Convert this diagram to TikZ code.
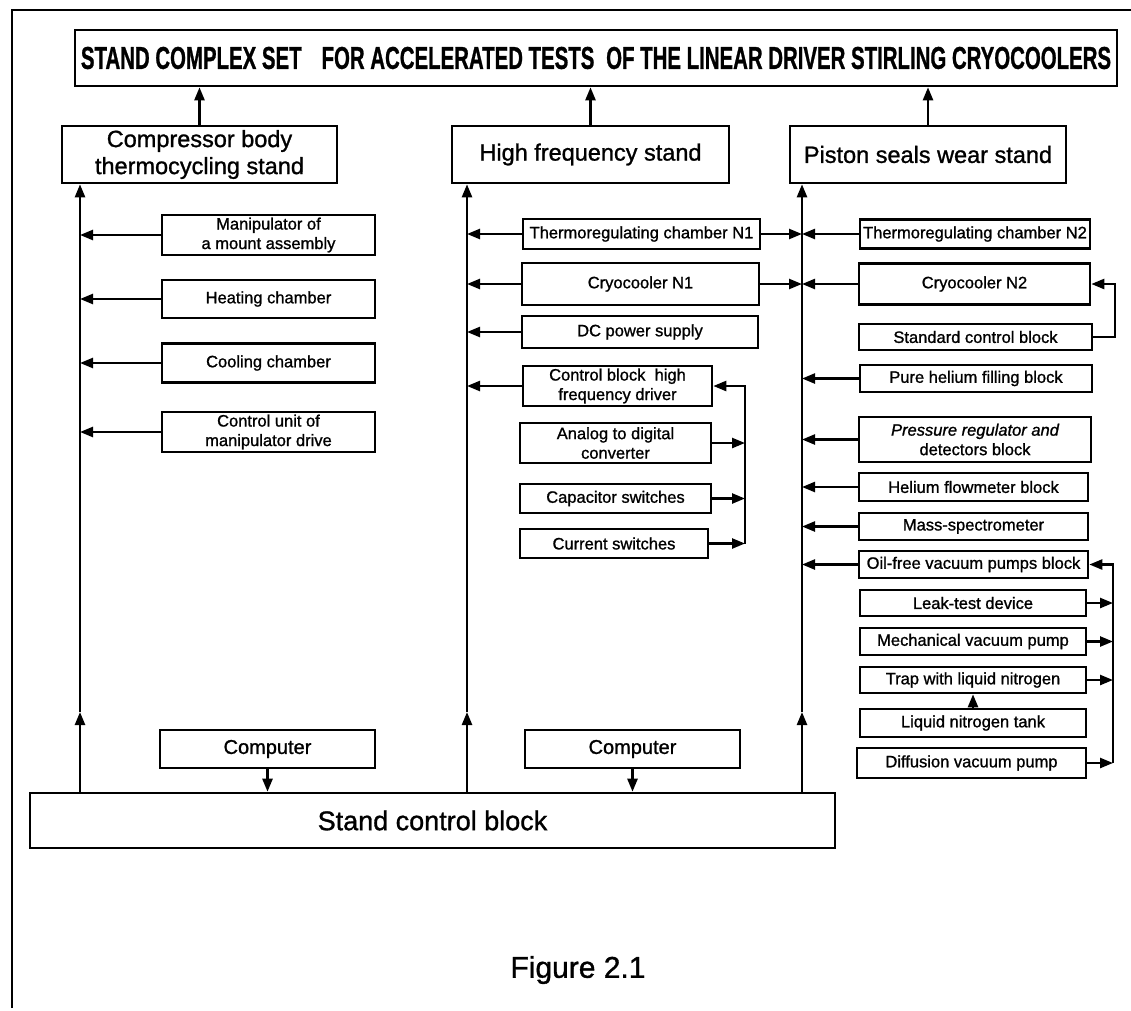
\documentclass[tikz,border=0pt]{standalone}
\usepackage{fontspec}
\usepackage{graphicx}
\setmainfont{Liberation Sans}[FakeBold=1.1]
\usetikzlibrary{arrows.meta}
\begin{document}
\begin{tikzpicture}[x=1pt,y=-1pt,
  box/.style={draw, line width=2.6pt, inner sep=0pt, align=center,
              font=\fontsize{16.5}{19.5}\selectfont},
  stand/.style={box, font=\fontsize{23.5}{27}\selectfont},
  arr/.style={line width=2.4pt, -{Triangle[length=13pt,width=10pt]}},
  wire/.style={line width=2.4pt}]
\useasboundingbox (0,0) rectangle (1131,1010);

% frame
\draw[line width=2.6pt] (12,1008) -- (12,10) -- (1131,10);

% title
\node[box, minimum width=1042pt, minimum height=56pt] (title) at (596,58)
  {\resizebox{1030pt}{22pt}{\bfseries STAND COMPLEX SET\hspace{0.7em} FOR ACCELERATED TESTS\hspace{0.3em} OF THE LINEAR DRIVER STIRLING CRYOCOOLERS}};

% stands
\node[stand, minimum width=275pt, minimum height=57pt] (comp) at (199.5,154.5) {Compressor body\\thermocycling stand};
\node[stand, minimum width=277pt, minimum height=57pt] (hf) at (590.5,154.5) {High frequency stand};
\node[stand, minimum width=276pt, minimum height=57pt] (pist) at (928,154.5) {Piston seals wear stand};

\draw[arr] (comp.north) -- (comp.north |- title.south);
\draw[arr] (hf.north) -- (hf.north |- title.south);
\draw[arr] (pist.north) -- (pist.north |- title.south);

% control block and computers
\node[box, minimum width=805pt, minimum height=55pt, font=\fontsize{27}{30}\selectfont] (ctrl) at (432.5,820.5) {Stand control block};
\node[box, minimum width=215pt, minimum height=38pt, font=\fontsize{20}{23}\selectfont] (pc1) at (267.5,749) {Computer};
\node[box, minimum width=215pt, minimum height=38pt, font=\fontsize{20}{23}\selectfont] (pc2) at (632.5,749) {Computer};
\draw[arr] (pc1.south) -- (pc1.south |- ctrl.north);
\draw[arr] (pc2.south) -- (pc2.south |- ctrl.north);

% buses
\coordinate (busL) at (80,712);
\coordinate (busM) at (467,712);
\coordinate (busR) at (802,712);
\draw[arr] (busL |- ctrl.north) -- (busL);
\draw[arr] (busL) -- (busL |- comp.south);
\draw[arr] (busM |- ctrl.north) -- (busM);
\draw[arr] (busM) -- (busM |- hf.south);
\draw[arr] (busR |- ctrl.north) -- (busR);
\draw[arr] (busR) -- (busR |- pist.south);

% left column
\node[box, minimum width=213pt, minimum height=40pt] (m1) at (268.5,235) {Manipulator of\\a mount assembly};
\node[box, minimum width=213pt, minimum height=38pt] (m2) at (268.5,299) {Heating chamber};
\node[box, minimum width=213pt, minimum height=39pt] (m3) at (268.5,363) {Cooling chamber};
\node[box, minimum width=213pt, minimum height=40pt] (m4) at (268.5,432) {Control unit of\\manipulator drive};
\foreach \n in {m1,m2,m3,m4} \draw[arr] (\n.west) -- (\n.west -| busL);

% middle column
\node[box, minimum width=237pt, minimum height=30pt] (t1) at (641.5,234) {Thermoregulating chamber N1};
\node[box, minimum width=237pt, minimum height=42pt] (c1) at (640.5,284) {Cryocooler N1};
\node[box, minimum width=236pt, minimum height=32pt] (dc) at (640,332) {DC power supply};
\node[box, minimum width=189pt, minimum height=40pt] (cb) at (617.5,386) {Control block\ \ high\\frequency driver};
\node[box, minimum width=191pt, minimum height=40pt] (adc) at (615.5,443) {Analog to digital\\converter};
\node[box, minimum width=191pt, minimum height=29pt] (cap) at (615.5,498.5) {Capacitor switches};
\node[box, minimum width=188pt, minimum height=29pt] (cur) at (614,543.5) {Current switches};
\foreach \n in {t1,c1,dc,cb} \draw[arr] (\n.west) -- (\n.west -| busM);
\draw[arr] (t1.east) -- (t1.east -| busR);
\draw[arr] (c1.east) -- (c1.east -| busR);
\coordinate (lpM) at (745,0);
\draw[arr] (cur.east -| lpM) |- (cb.east);
\foreach \n in {adc,cap,cur} \draw[arr] (\n.east) -- (\n.east -| lpM);

% right column
\node[box, minimum width=230pt, minimum height=29pt] (t2) at (975,234) {Thermoregulating chamber N2};
\node[box, minimum width=231pt, minimum height=41pt] (c2) at (974.5,284) {Cryocooler N2};
\node[box, minimum width=233pt, minimum height=26pt] (sc) at (975.5,337) {Standard control block};
\node[box, minimum width=232pt, minimum height=27pt] (ph) at (976,378.5) {Pure helium filling block};
\node[box, minimum width=232pt, minimum height=45pt] (pr) at (975,439.5) {\itshape Pressure regulator and\\detectors block};
\node[box, minimum width=229pt, minimum height=28pt] (hfm) at (973.5,487) {Helium flowmeter block};
\node[box, minimum width=229pt, minimum height=27pt] (ms) at (973.5,526.5) {Mass-spectrometer};
\node[box, minimum width=229pt, minimum height=27pt] (of) at (973.5,564.5) {Oil-free vacuum pumps block};
\node[box, minimum width=226pt, minimum height=26pt] (lt) at (973,603) {Leak-test device};
\node[box, minimum width=226pt, minimum height=27pt] (mv) at (973,641.5) {Mechanical vacuum pump};
\node[box, minimum width=226pt, minimum height=26pt] (tr) at (973,680) {Trap with liquid nitrogen};
\node[box, minimum width=226pt, minimum height=28pt] (lnt) at (973,723) {Liquid nitrogen tank};
\node[box, minimum width=229pt, minimum height=30pt] (dv) at (971.5,763) {Diffusion vacuum pump};
\foreach \n in {t2,c2,ph,pr,hfm,ms,of} \draw[arr] (\n.west) -- (\n.west -| busR);
\coordinate (lpR1) at (1115,0);
\draw[arr] (sc.east) -- (sc.east -| lpR1) |- (c2.east);
\coordinate (lpR2) at (1113,0);
\draw[arr] (dv.east -| lpR2) |- (of.east);
\foreach \n in {lt,mv,tr,dv} \draw[arr] (\n.east) -- (\n.east -| lpR2);
\draw[arr] (lnt.north) -- (tr.south);

% caption
\node[font=\fontsize{30}{34}\selectfont] (fig) at (578,970) {Figure 2.1};
\end{tikzpicture}
\end{document}
